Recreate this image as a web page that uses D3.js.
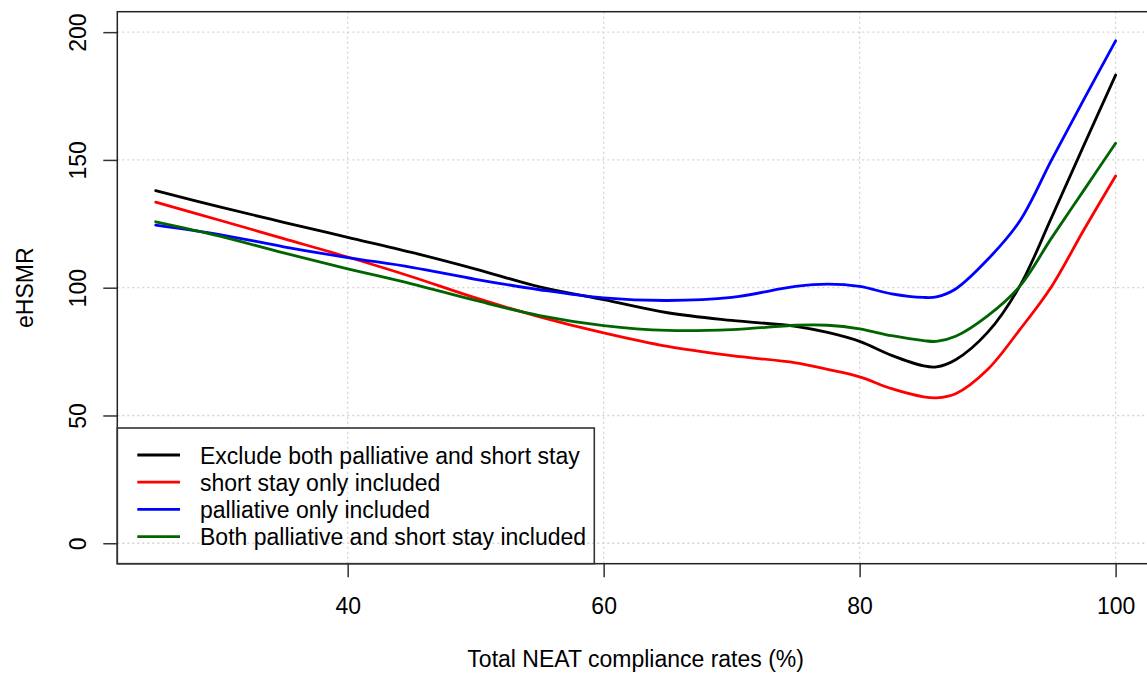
<!DOCTYPE html>
<html>
<head>
<meta charset="utf-8">
<script src="https://cdn.jsdelivr.net/npm/d3@7"></script>
<style>
  html, body { margin: 0; padding: 0; background: #fff; }
  svg { display: block; font-family: "Liberation Sans", Arial, sans-serif; }
</style>
</head>
<body>
<svg id="chart" width="1147" height="677"></svg>
<script>
// NEAT compliance rate (%) at which each smoothed curve is sampled
const compliance = [25, 30, 35, 40, 45, 50, 55, 60, 65, 70, 75, 77.5, 80, 82.5, 85, 86, 87.5, 90, 92.5, 95, 97.5, 100];

// eHSMR for each model
const excludeBoth   = [138.0, 131.6, 125.6, 119.7, 113.8, 107.3, 100.3, 95.3, 90.2, 87.2, 84.9, 82.5, 79.0, 73.5, 69.4, 69.0, 71.8, 82.5, 100.5, 127.5, 155.5, 183.2];
const shortStayOnly = [133.5, 126.4, 119.2, 112.0, 104.3, 96.0, 88.6, 82.3, 77.0, 73.4, 70.6, 68.0, 65.1, 60.5, 57.3, 56.9, 58.5, 68.0, 83.5, 100.5, 122.5, 143.7];
const palliativeOnly = [124.5, 120.8, 116.0, 111.8, 108.0, 103.3, 99.2, 96.0, 95.0, 96.2, 100.5, 101.4, 100.5, 97.6, 96.2, 96.4, 99.5, 111.0, 126.0, 150.0, 173.5, 196.6];
const bothIncluded  = [125.8, 120.2, 113.6, 107.4, 101.5, 95.0, 89.1, 85.2, 83.3, 83.6, 85.3, 85.3, 83.9, 81.2, 79.3, 79.0, 81.0, 89.0, 100.5, 119.5, 138.0, 156.5];

const seriesNames = [
  "Exclude both palliative and short stay",
  "short stay only included",
  "palliative only included",
  "Both palliative and short stay included"
];
const seriesColors = ["#000000", "#FF0000", "#0000FF", "#006400"];
const seriesValues = [excludeBoth, shortStayOnly, palliativeOnly, bothIncluded];

const xTicks = [40, 60, 80, 100];
const yTicks = [0, 50, 100, 150, 200];
const xTitle = "Total NEAT compliance rates (%)";
const yTitle = "eHSMR";

const svg = d3.select("#chart");
const fontSize = 23;

// plot region (right edge runs past the page)
const plotL = 117.3, plotR = 1154, plotT = 11.7, plotB = 563.7;
const x = d3.scaleLinear().domain([22, 103]).range([plotL, plotR]);
const y = d3.scaleLinear().domain([-8, 208]).range([plotB, plotT]);

// dotted grid
const grid = svg.append("g")
  .attr("stroke", "#D3D3D3").attr("stroke-width", 1.3)
  .attr("stroke-dasharray", "2,3").attr("fill", "none");
grid.selectAll("line.v").data(xTicks).join("line").attr("class", "v")
  .attr("x1", d => x(d)).attr("x2", d => x(d))
  .attr("y1", plotT).attr("y2", plotB);
grid.selectAll("line.h").data(yTicks).join("line").attr("class", "h")
  .attr("x1", plotL).attr("x2", plotR)
  .attr("y1", d => y(d)).attr("y2", d => y(d));

// curves
const line = d3.line()
  .x((d, i) => x(compliance[i]))
  .y(d => y(d))
  .curve(d3.curveCatmullRom.alpha(0.5));

svg.append("g").selectAll("path").data(seriesValues).join("path")
  .attr("d", d => line(d))
  .attr("fill", "none")
  .attr("stroke", (d, i) => seriesColors[i])
  .attr("stroke-width", 2.8)
  .attr("stroke-linejoin", "round")
  .attr("stroke-linecap", "round");

// x axis
const xAxis = svg.append("g").attr("transform", `translate(0,${plotB})`)
  .call(d3.axisBottom(x).tickValues(xTicks).tickSize(13.5).tickPadding(0).tickFormat(d3.format("d")));
xAxis.select(".domain").remove();
xAxis.selectAll(".tick line").attr("stroke", "#333").attr("stroke-width", 1.5);
xAxis.selectAll(".tick text")
  .attr("font-size", fontSize).attr("fill", "#000")
  .attr("font-family", "Liberation Sans, Arial, sans-serif")
  .attr("dy", null).attr("y", 50);

// y axis with rotated labels
const yAxis = svg.append("g").attr("transform", `translate(${plotL},0)`)
  .call(d3.axisLeft(y).tickValues(yTicks).tickSize(14).tickFormat(d3.format("d")));
yAxis.select(".domain").remove();
yAxis.selectAll(".tick line").attr("stroke", "#333").attr("stroke-width", 1.5);
yAxis.selectAll(".tick text")
  .attr("font-size", fontSize).attr("fill", "#000")
  .attr("font-family", "Liberation Sans, Arial, sans-serif")
  .attr("x", null).attr("dy", null)
  .attr("text-anchor", "middle")
  .attr("transform", `translate(${86 - plotL},0) rotate(-90)`);

// plot frame
svg.append("rect")
  .attr("x", plotL).attr("y", plotT)
  .attr("width", plotR - plotL).attr("height", plotB - plotT)
  .attr("fill", "none").attr("stroke", "#222").attr("stroke-width", 1.5);

// axis titles
svg.append("text")
  .attr("x", (plotL + plotR) / 2).attr("y", 667)
  .attr("text-anchor", "middle").attr("font-size", fontSize)
  .text(xTitle);
svg.append("text")
  .attr("transform", `translate(33,${(plotT + plotB) / 2}) rotate(-90)`)
  .attr("text-anchor", "middle").attr("font-size", fontSize)
  .text(yTitle);

// legend
const legend = svg.append("g");
legend.append("rect")
  .attr("x", plotL).attr("y", 428)
  .attr("width", 594.3 - plotL).attr("height", plotB - 428)
  .attr("fill", "none").attr("stroke", "#333").attr("stroke-width", 1.6);
const rowY = i => 455 + i * 27.2;
const rows = legend.selectAll("g.row").data(seriesNames).join("g").attr("class", "row");
rows.append("line")
  .attr("x1", 137.3).attr("x2", 180)
  .attr("y1", (d, i) => rowY(i)).attr("y2", (d, i) => rowY(i))
  .attr("stroke", (d, i) => seriesColors[i]).attr("stroke-width", 2.8);
rows.append("text")
  .attr("x", 200).attr("y", (d, i) => rowY(i) + 8.5)
  .attr("font-size", fontSize)
  .text(d => d);
</script>
</body>
</html>
